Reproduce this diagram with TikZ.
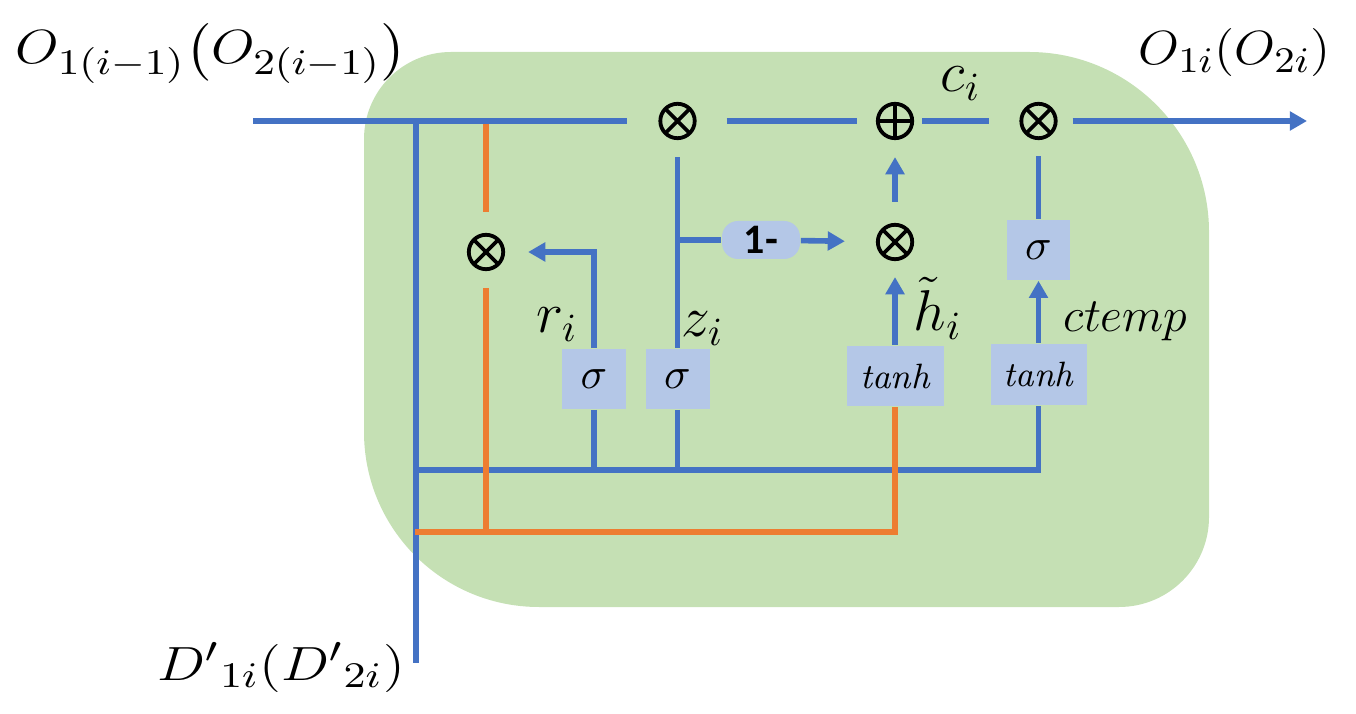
\documentclass[tikz,border=0pt]{standalone}
\usepackage{amsmath}
\usepackage{graphicx}
\usepackage{fontspec}
\newfontfamily\calib{Carlito}
\usetikzlibrary{arrows.meta,calc}
\definecolor{lblue}{HTML}{4472C4}
\definecolor{lorange}{HTML}{ED7D31}
\definecolor{lgreen}{HTML}{C5E0B4}
\definecolor{lbox}{HTML}{B4C7E7}
\tikzset{
  opnode/.style={circle, draw=black, line width=0.95pt, minimum size=8.6pt, inner sep=0pt},
  otimesnode/.style={opnode, path picture={\draw[line width=0.95pt]
      (path picture bounding box.north west) -- (path picture bounding box.south east)
      (path picture bounding box.north east) -- (path picture bounding box.south west);}},
  oplusnode/.style={opnode, path picture={\draw[line width=0.95pt]
      (path picture bounding box.north) -- (path picture bounding box.south)
      (path picture bounding box.east) -- (path picture bounding box.west);}},
  gate/.style={fill=lbox, inner sep=0pt, font=\fontsize{10.5}{12}\selectfont},
  gatet/.style={gate, font=\fontsize{8.8}{10}\selectfont},
  pillnode/.style={fill=lbox, rounded corners=4pt, inner sep=0pt, minimum width=19.5pt,
      minimum height=9.5pt, font=\calib\bfseries\fontsize{10.5}{12}\selectfont},
  bw/.style={draw=lblue, line width=1.4pt},
  ow/.style={draw=lorange, line width=1.4pt},
  arr/.style={-{Triangle[length=4.3pt,width=4.6pt]}},
  lbl/.style={inner sep=0pt, anchor=base west, font=\fontsize{14}{16}\selectfont},
  biglbl/.style={inner sep=0pt, anchor=base west, font=\fontsize{13}{15}\selectfont}
}
\begin{document}
\begin{tikzpicture}[x=0.25pt,y=-0.25pt]
\useasboundingbox (0,0) rectangle (1356,714);
% green cell background
\fill[lgreen] (364,139) .. controls (364,91) and (403,52) .. (451,52)
  -- (1029,52) .. controls (1128.4,52) and (1209,132.6) .. (1209,232)
  -- (1209,517) .. controls (1209,566.7) and (1168.7,607) .. (1119,607)
  -- (539,607) .. controls (442.3,607) and (364,528.7) .. (364,432) -- cycle;

% operators
\node[otimesnode] (m1) at (677.5,121) {};
\node[oplusnode] (p1) at (895,121) {};
\node[otimesnode] (m3) at (1038.5,121) {};
\node[otimesnode] (m2) at (486,252) {};
\node[otimesnode] (m4) at (895,242) {};

% gates
\node[gate, minimum width=16pt, minimum height=15pt] (sr) at (594,379) {$\sigma$};
\node[gate, minimum width=16pt, minimum height=15pt] (sz) at (677.5,379) {$\sigma$};
\node[gatet, minimum width=24.25pt, minimum height=15pt] (th1) at (895,376) {$\mathit{tanh}$};
\node[gate, minimum width=15.75pt, minimum height=15pt] (s3) at (1038.5,250) {$\sigma$};
\node[gatet, minimum width=24pt, minimum height=15.25pt] (th2) at (1038.5,374.5) {$\mathit{tanh}$};
\node[pillnode] (pill) at (761,240) {1-};

% coordinates
\coordinate (in) at (253,121);
\coordinate (j1) at (416,121);
\coordinate (bot) at (416,663);
\coordinate (out) at (1307,121);
\coordinate (otop) at (486,124);
\coordinate (oj) at (486,532);
\coordinate (ol) at (415,532);
\coordinate (bl) at (416,470);
\coordinate (br) at (677.5,240);

% blue wires
\draw[bw, shorten >=7.75pt] (in) -- (m1);
\draw[bw, shorten <=7.5pt, shorten >=4.75pt] (m1) -- (p1);
\draw[bw, shorten <=2pt, shorten >=7.5pt] (p1) -- (m3);
\draw[bw, arr, shorten <=3.75pt] (m3) -- (out);
\draw[bw] (j1) -- (bot);
\draw[bw, shorten <=4.25pt] (m1) -- (sz);
\draw[bw] (br) -- (pill);
\draw[bw, arr, shorten >=7.75pt] (pill) -- (m4);
\draw[bw, arr, shorten <=5.25pt, shorten >=4.25pt] (m4) -- (p1);
\draw[bw, arr, shorten >=4pt] (th1) -- (m4);
\draw[bw, shorten <=4pt] (m3) -- (s3);
\draw[bw, arr] (th2) -- (s3);
\draw[bw, arr, shorten >=5.75pt] (sr.north) |- (m2);
\draw[bw] (bl) -| (th2.south);
\draw[bw] (sr.south) -- (sr.south |- bl);
\draw[bw] (sz.south) -- (sz.south |- bl);

% orange wires
\draw[ow, shorten >=5.25pt] (otop) -- (m2);
\draw[ow, shorten <=4.25pt] (m2) -- (oj);
\draw[ow] (ol) -| (th1.south);

% labels
\node[lbl] (ci) at (940,92) {$c_i$};
\node[lbl] (ri) at (536,333) {$r_i$};
\node[lbl] (zi) at (681,337) {$z_i$};
\node[lbl] (hi) at (913,331) {$\tilde{h}_i$};
\node[lbl, font=\fontsize{12.8}{15}\selectfont] (ct) at (1063,332) {$ctemp$};
\node[biglbl] (oin) at (15,64) {\scalebox{1.17}[1]{$O_{1(i-1)}\bigl(O_{2(i-1)}\bigr)$}};
\node[biglbl] (oout) at (1138,65) {\scalebox{1.1}[1]{$O_{1i}(O_{2i})$}};
\node[biglbl] (dlbl) at (157,680) {\scalebox{1.19}[1]{${D'}_{1i}({D'}_{2i})$}};
\end{tikzpicture}
\end{document}
